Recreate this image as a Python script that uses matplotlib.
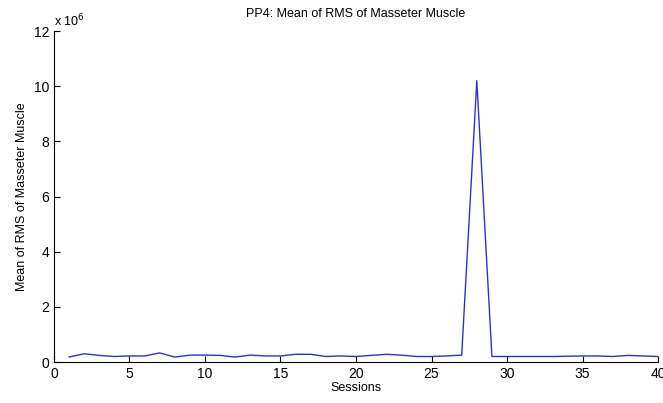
import numpy as np
import matplotlib.pyplot as plt

plt.rcParams['font.family'] = ['Liberation Sans', 'DejaVu Sans']

sessions = np.arange(1, 41)
rms = [0.18, 0.30, 0.24, 0.20, 0.22, 0.22, 0.33, 0.18, 0.25, 0.25,
       0.24, 0.18, 0.25, 0.22, 0.22, 0.28, 0.28, 0.20, 0.22, 0.20,
       0.24, 0.28, 0.25, 0.20, 0.20, 0.22, 0.25, 10.2, 0.20, 0.20,
       0.20, 0.20, 0.20, 0.21, 0.22, 0.22, 0.20, 0.24, 0.22, 0.20]
rms = np.array(rms) * 1e6

fig = plt.figure(figsize=(6.63, 4.03), dpi=100)
ax = fig.add_axes([0.0814, 0.1017, 0.9111, 0.8213])
ax.plot(sessions, rms, color='#3030d0', linewidth=1.0)

ax.set_xlim(0, 40)
ax.set_ylim(0, 12e6)
ax.set_xticks(np.arange(0, 41, 5))
ax.set_yticks(np.arange(0, 13e6, 2e6))
ax.set_yticklabels([str(v) for v in range(0, 13, 2)])
ax.text(0.0, 1.005, r'x 10$^6$', transform=ax.transAxes, fontsize=9, va='bottom', ha='left')

for s in ['top', 'right']:
    ax.spines[s].set_visible(False)
ax.tick_params(direction='in', length=4, labelsize=10)

ax.set_title('PP4: Mean of RMS of Masseter Muscle', fontsize=9, pad=10)
ax.set_xlabel('Sessions', fontsize=9, labelpad=1)
ax.set_ylabel('Mean of RMS of Masseter Muscle', fontsize=9, labelpad=4)

fig.savefig('out.png', dpi=100)
